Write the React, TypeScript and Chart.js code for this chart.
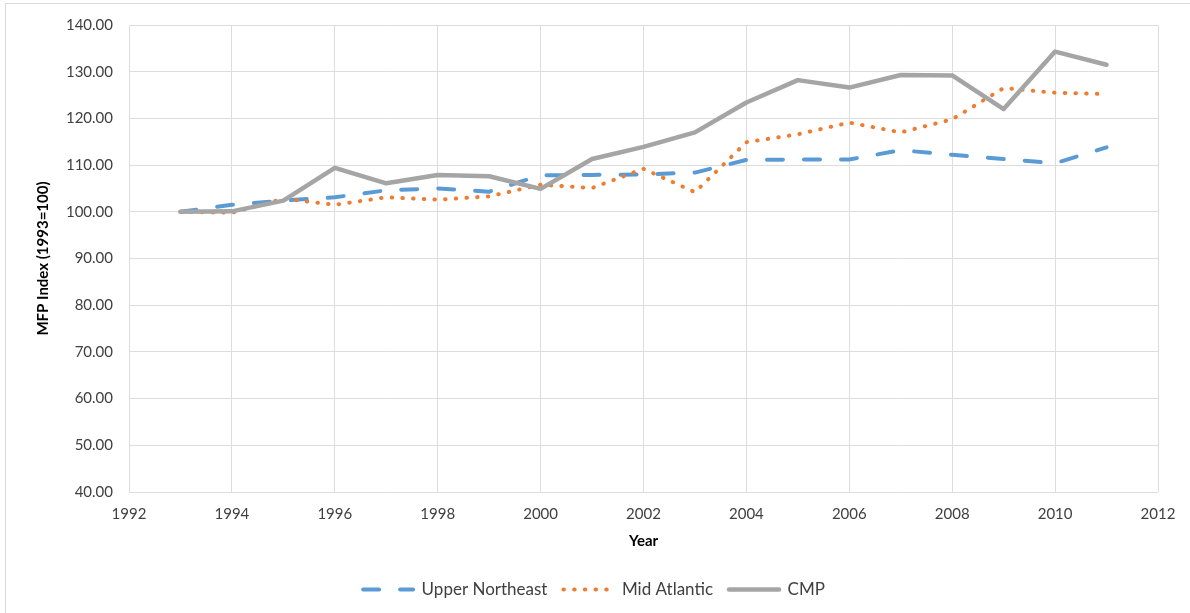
import React, { useEffect, useRef } from "react";
import { Chart, registerables } from "chart.js";

Chart.register(...registerables);

const years = [1993, 1994, 1995, 1996, 1997, 1998, 1999, 2000, 2001, 2002, 2003, 2004, 2005, 2006, 2007, 2008, 2009, 2010, 2011];
const upperNortheast = [100.0, 101.5, 102.4, 103.1, 104.6, 105.0, 104.3, 107.8, 107.9, 108.0, 108.4, 111.1, 111.2, 111.2, 113.2, 112.2, 111.3, 110.4, 113.8];
const midAtlantic = [100.0, 99.8, 102.8, 101.5, 103.1, 102.6, 103.3, 105.8, 105.1, 109.2, 104.2, 114.9, 116.6, 119.1, 117.0, 119.8, 126.5, 125.5, 125.2];
const cmp = [100.0, 100.1, 102.4, 109.4, 106.1, 107.9, 107.6, 104.9, 111.3, 113.9, 117.0, 123.4, 128.2, 126.6, 129.3, 129.2, 122.0, 134.3, 131.5];

const xMin = 1992;
const xMax = 2012;
const xStep = 2;
const yMin = 40;
const yMax = 140;
const yStep = 10;

const FONT = "Lato, 'Open Sans', sans-serif";

export default function App() {
  const ref = useRef<HTMLCanvasElement>(null);

  useEffect(() => {
    const pts = (vals: number[]) => years.map((y, i) => ({ x: y, y: vals[i] }));
    const chart = new Chart(ref.current as HTMLCanvasElement, {
      type: "line",
      data: {
        datasets: [
          {
            label: "Upper Northeast",
            data: pts(upperNortheast),
            borderColor: "#5B9BD5",
            backgroundColor: "#5B9BD5",
            borderWidth: 4,
            borderDash: [16, 21],
            borderCapStyle: "round",
            borderJoinStyle: "round",
            pointRadius: 0,
            pointStyle: "line",
            tension: 0,
            fill: false,
            order: 3,
          },
          {
            label: "Mid Atlantic",
            data: pts(midAtlantic),
            borderColor: "#ED7D31",
            backgroundColor: "#ED7D31",
            borderWidth: 4,
            borderDash: [0.5, 10.2],
            borderCapStyle: "round",
            borderJoinStyle: "round",
            pointRadius: 0,
            pointStyle: "line",
            tension: 0,
            fill: false,
            order: 2,
          },
          {
            label: "CMP",
            data: pts(cmp),
            borderColor: "#A5A5A5",
            backgroundColor: "#A5A5A5",
            borderWidth: 4.5,
            borderCapStyle: "round",
            borderJoinStyle: "round",
            pointRadius: 0,
            pointStyle: "line",
            tension: 0,
            fill: false,
            order: 1,
          },
        ],
      },
      options: {
        animation: false,
        responsive: true,
        maintainAspectRatio: false,
        events: [],
        layout: { padding: { left: 30, right: 32, top: 24, bottom: 32 } },
        plugins: {
          tooltip: { enabled: false },
          title: { display: false },
          legend: {
            position: "bottom",
            labels: {
              usePointStyle: true,
              pointStyleWidth: 50,
              padding: 16,
              color: "#404040",
              font: { family: FONT, size: 17 },
              sort: (a: any, b: any) => a.datasetIndex - b.datasetIndex,
              generateLabels: (c: any) => {
                const base = (Chart as any).defaults.plugins.legend.labels.generateLabels(c);
                return base.map((item: any) => {
                  const ds: any = c.data.datasets[item.datasetIndex];
                  return {
                    ...item,
                    lineDash: ds.borderDash || [],
                    lineCap: ds.borderCapStyle || "butt",
                    lineWidth: ds.borderWidth,
                    strokeStyle: ds.borderColor,
                    fillStyle: ds.borderColor,
                    pointStyle: "line",
                  };
                });
              },
            },
          },
        },
        scales: {
          x: {
            type: "linear",
            min: xMin,
            max: xMax,
            afterFit: (s: any) => {
              s.height = 73;
            },
            ticks: {
              stepSize: xStep,
              padding: 13,
              color: "#404040",
              font: { family: FONT, size: 15 },
              maxRotation: 0,
              callback: (v: any) => String(v),
            },
            grid: { color: "#DDDDDD", lineWidth: 1, drawTicks: false },
            border: { display: false },
            title: {
              display: true,
              text: "Year",
              color: "#000000",
              font: { family: FONT, size: 15, weight: "bold" },
              padding: { top: 0, bottom: 15 },
            },
          },
          y: {
            min: yMin,
            max: yMax,
            afterFit: (s: any) => {
              s.width = 99;
            },
            ticks: {
              stepSize: yStep,
              padding: 16,
              color: "#404040",
              font: { family: FONT, size: 15 },
              callback: (v: any) => Number(v).toFixed(2),
            },
            grid: { color: "#DDDDDD", lineWidth: 1, drawTicks: false },
            border: { display: false },
            title: {
              display: true,
              text: "MFP Index (1993=100)",
              color: "#000000",
              font: { family: FONT, size: 15, weight: "bold" },
              padding: { top: 4, bottom: 0 },
            },
          },
        },
      },
    });
    return () => chart.destroy();
  }, []);

  return (
    <div
      style={{
        position: "fixed",
        left: 0,
        top: 0,
        width: 1190,
        height: 613,
        overflow: "hidden",
        background: "#ffffff",
      }}
    >
      <div
        style={{
          position: "absolute",
          left: 5,
          top: 3,
          width: 2000,
          height: 2000,
          border: "1px solid #D9D9D9",
          boxSizing: "border-box",
        }}
      />
      <div style={{ position: "absolute", left: 0, top: 0, width: 1190, height: 640 }}>
        <canvas ref={ref} />
      </div>
    </div>
  );
}
